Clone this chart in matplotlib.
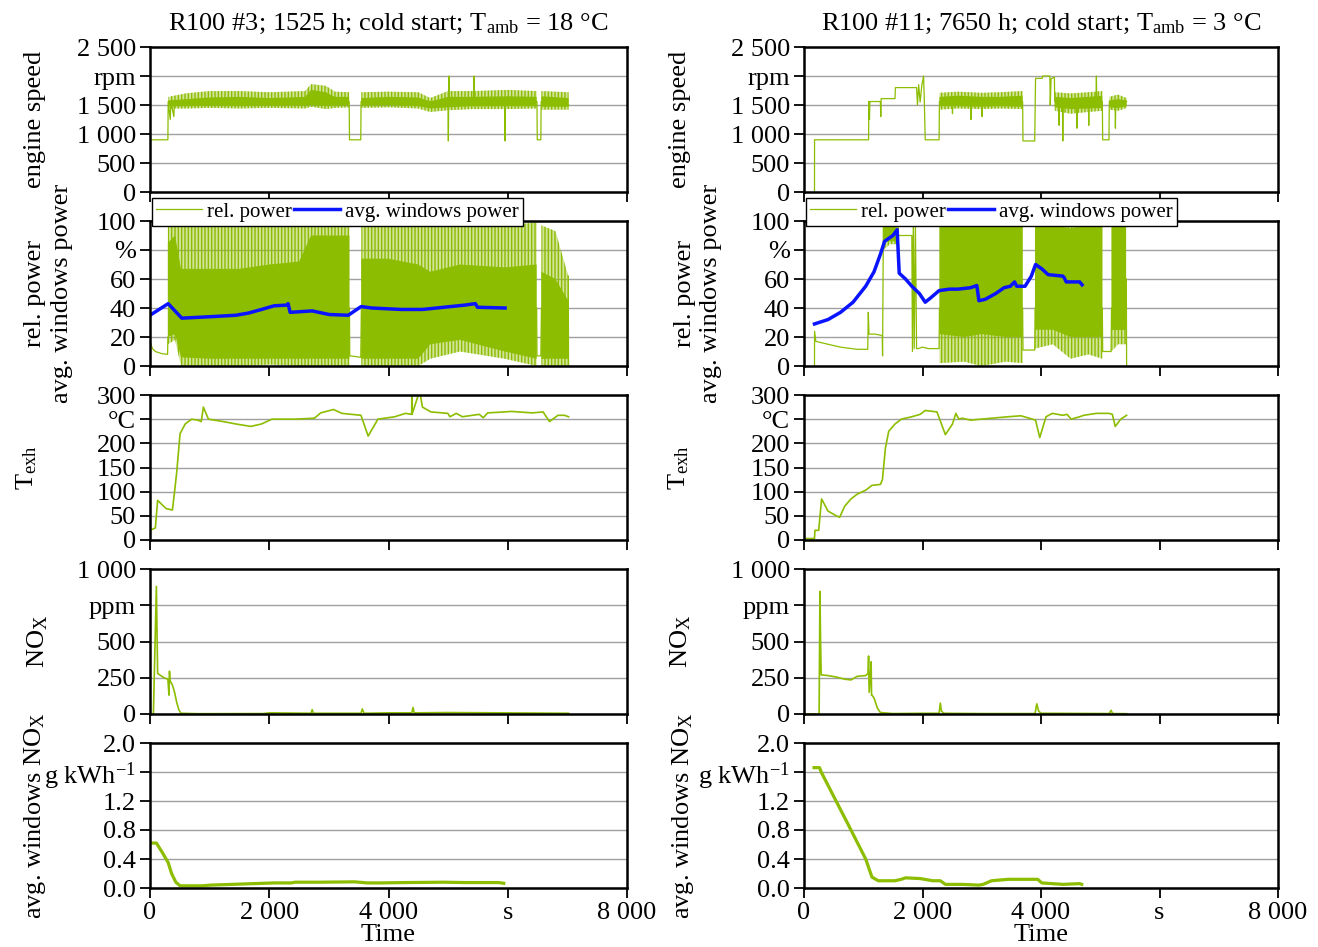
import numpy as np
import matplotlib
matplotlib.use('Agg')
import matplotlib.pyplot as plt
from matplotlib.ticker import FixedLocator, FixedFormatter

nan = np.nan

# ---- text ----
titles = ['R100 #3; 1525 h; cold start; T$_\\mathrm{amb}$ = 18 °C',
          'R100 #11; 7650 h; cold start; T$_\\mathrm{amb}$ = 3 °C']
ylabels = ['engine speed', 'rel. power\navg. windows power', 'T$_\\mathrm{exh}$',
           'NO$_\\mathrm{X}$', 'avg. windows NO$_\\mathrm{X}$']
x_ticks = [0, 2000, 4000, 6000, 8000]
x_labels = ['0', '2 000', '4 000', 's', '8 000']
spd_ticks = [0, 500, 1000, 1500, 2000, 2500]
spd_labels = ['0', '500', '1 000', '1 500', 'rpm', '2 500']
pow_ticks = [0, 20, 40, 60, 80, 100]
pow_labels = ['0', '20', '40', '60', '%', '100']
tex_ticks = [0, 50, 100, 150, 200, 250, 300]
tex_labels = ['0', '50', '100', '150', '200', '°C', '300']
nox_ticks = [0, 250, 500, 750, 1000]
nox_labels = ['0', '250', '500', 'ppm', '1 000']
anx_ticks = [0, 0.4, 0.8, 1.2, 1.6, 2.0]
anx_labels = ['0.0', '0.4', '0.8', '1.2', 'g kWh$^{-1}$', '2.0']

# ---- left: R100 #3 ----
spd_l_t = [0, 2, 300, 305, 340, 350, 400, 410, 3340, 3346, 3535, 3540, 4998, 5004, 5012, 5020,
           5430, 5436, 5442, 5950, 5955, 5962, 6490, 6495, 6555, 6560, 7020]
spd_l_v = [0, 900, 900, 1560, 1250, 1560, 1300, 1560, 1560, 900, 900, 1560, 1560, 880, 2000, 1560,
           1560, 2000, 1560, 1560, 880, 1560, 1560, 900, 900, 1560, 1500]
spd_l_bt = [310, 600, 1000, 1500, 2000, 2600, 2700, 2950, 3100, 3340, nan,
            3545, 4000, 4500, 4700, 5000, 5400, 6000, 6485, nan, 6565, 7020]
spd_l_lo = [1440, 1440, 1450, 1440, 1450, 1440, 1470, 1430, 1450, 1460, nan,
            1450, 1460, 1440, 1380, 1410, 1430, 1430, 1440, nan, 1420, 1420]
spd_l_hi = [1640, 1700, 1740, 1740, 1720, 1740, 1860, 1830, 1730, 1720, nan,
            1720, 1730, 1720, 1620, 1740, 1740, 1760, 1740, nan, 1740, 1720]
spd_l_clo = [1480, 1480, 1490, 1480, 1490, 1490, 1500, 1480, 1490, 1500, nan,
             1490, 1500, 1480, 1440, 1460, 1480, 1480, 1480, nan, 1470, 1470]
spd_l_chi = [1580, 1600, 1630, 1640, 1620, 1640, 1760, 1720, 1640, 1640, nan,
             1620, 1640, 1630, 1560, 1640, 1640, 1650, 1640, nan, 1650, 1620]

pow_l_t = [0, 3, 40, 90, 200, 295, 300, nan, 3345, 3350, 3450, 3535, 3545, nan,
           6485, 6490, 6555, 6565, nan, 7015, 7020]
pow_l_v = [0, 17, 12, 10, 8.5, 8, 20, nan, 40, 7, 6.5, 6, 40, nan,
           40, 7, 7, 40, nan, 62, 0]
pow_l_bt = [300, 420, 520, 1000, 1500, 2000, 2500, 2700, 3345, nan,
            3545, 4000, 4500, 4700, 5200, 5950, 6485, nan, 6565, 6800, 7015]
pow_l_lo = [15, 18, 0, 0, 0, 1, 0, 0, 0, nan, 0, 0, 0, 5, 10, 5, 0, nan, 0, 0, 0]
pow_l_hi = [100, 100, 97, 99, 97, 98, 97, 100, 100, nan, 98, 100, 97, 98, 100, 97, 99, nan, 97, 93, 62]
pow_l_clo = [20, 22, 6, 5, 5, 5, 5, 5, 5, nan, 5, 5, 5, 15, 18, 10, 5, nan, 5, 5, 5]
pow_l_chi = [85, 90, 67, 67, 67, 70, 72, 90, 90, nan, 74, 74, 70, 65, 70, 68, 70, nan, 65, 60, 45]

avp_l_t = [0, 305, 533, 1015, 1440, 1650, 1870, 2080, 2295, 2316, 2350, 2720, 3005, 3325,
           3540, 3716, 4213, 4570, 4925, 5280, 5457, 5492, 5955]
avp_l_v = [35, 43, 33, 34, 35, 36.5, 39, 41.5, 42, 43, 37, 38, 35.5, 35,
           41, 40, 39, 39, 40.5, 42, 43, 40.5, 40]

tex_l_t = [0, 90, 128, 270, 376, 412, 448, 504, 590, 697, 803, 860, 895, 980, 1229, 1442, 1691,
           1869, 2046, 2437, 2757, 2863, 3077, 3219, 3538, 3659, 3822, 4107, 4284, 4389, 4391, 4395,
           4500, 4535, 4569, 4711, 4995, 5030, 5137, 5240, 5521, 5590, 5663, 5947, 6060, 6416,
           6593, 6700, 6842, 6949, 7020]
tex_l_v = [20, 25, 82, 65, 62, 100, 140, 220, 240, 250, 248, 245, 275, 250, 245, 240, 235,
           240, 250, 250, 252, 263, 270, 262, 258, 215, 250, 255, 262, 260, 300, 260,
           300, 300, 275, 265, 262, 255, 262, 255, 260, 253, 263, 265, 266, 263,
           265, 245, 258, 258, 255]

nox_l_t = [0, 57, 107, 128, 163, 234, 300, 318, 327, 335, 376, 412, 448, 483, 519, 800, 1900,
           2000, 2700, 2720, 2740, 3540, 3560, 3590, 4000, 4390, 4412, 4430, 5000, 7020]
nox_l_v = [0, 0, 880, 280, 270, 250, 240, 130, 295, 230, 200, 150, 80, 30, 5, 2, 3,
           8, 5, 30, 5, 5, 35, 5, 8, 8, 45, 8, 10, 5]

anx_l_t = [0, 107, 199, 305, 362, 433, 504, 874, 1016, 1371, 1727, 2082, 2366, 2437, 2863,
           3432, 3645, 3858, 4284, 4924, 5280, 5847, 5933]
anx_l_v = [0.62, 0.62, 0.5, 0.35, 0.2, 0.08, 0.03, 0.03, 0.04, 0.05, 0.06, 0.07, 0.07, 0.08, 0.08,
           0.085, 0.07, 0.07, 0.075, 0.08, 0.075, 0.075, 0.065]

# ---- right: R100 #11 ----
spd_r_t = [177, 178, 1090, 1095, 1105, 1112, 1289, 1296, 1302, 1536, 1542, 1900, 1915, 1935, 1960,
           1990, 2018, 2030, 2046, 2280, 2286, 2500, 2506, 2512, 2811, 2817, 2823, 3000, 3006, 3012,
           3690, 3696, 3894, 3908, 4020, 4030, 4150, 4156, 4170, 4226, 4232, 4300, 4306, 4312,
           4362, 4368, 4374, 4600, 4606, 4612, 4800, 4806, 4812, 4929, 4935, 4941,
           5035, 5041, 5147, 5153, 5250, 5256, 5262, 5445]
spd_r_v = [0, 900, 900, 1560, 1250, 1560, 1560, 1300, 1610, 1610, 1800, 1800, 1500, 1850, 1550,
           1850, 2000, 1600, 900, 900, 1560, 1560, 1350, 1560, 1560, 1250, 1560, 1560, 1300, 1560,
           1560, 880, 880, 1960, 1960, 2000, 2000, 1500, 1950, 1980, 1560, 1560, 1150, 1560,
           1500, 880, 1500, 1560, 1100, 1560, 1560, 1150, 1560, 1560, 2000, 1560,
           1560, 900, 900, 1560, 1560, 1100, 1560, 1560]
spd_r_bt = [2286, 2600, 3000, 3300, 3690, nan, 4232, 4500, 4800, 5035, nan, 5153, 5300, 5445]
spd_r_lo = [1420, 1440, 1430, 1440, 1430, nan, 1400, 1350, 1380, 1400, nan, 1420, 1400, 1450]
spd_r_hi = [1710, 1730, 1710, 1720, 1740, nan, 1720, 1700, 1720, 1740, nan, 1640, 1680, 1620]
spd_r_clo = [1480, 1480, 1470, 1480, 1470, nan, 1460, 1430, 1440, 1450, nan, 1460, 1450, 1480]
spd_r_chi = [1640, 1660, 1640, 1640, 1660, nan, 1640, 1620, 1640, 1660, nan, 1580, 1600, 1580]

pow_r_t = [177, 178, 200, 404, 616, 900, 1076, 1085, 1097, 1200, 1320, 1326, 1340, nan,
           1600, 1820, 1830, 1845, 1860, 1880, 1900, 1926, 2000, 2100, 2280, 2286, nan,
           3690, 3696, 3894, 3900, nan, 5035, 5041, 5183, 5190, nan, 5440, 5445]
pow_r_v = [0, 24, 17, 15, 13, 11.5, 11.5, 37, 22, 22, 21, 7, 100, nan,
           90, 90, 10, 100, 12, 100, 12, 12, 13, 12, 12, 40, nan,
           40, 11, 11, 40, nan, 40, 10, 10, 40, nan, 60, 0]
pow_r_bt = [1340, 1450, 1600, nan, 2286, 2700, 3000, 3400, 3690, nan,
            3900, 4200, 4500, 4800, 5035, nan, 5190, 5300, 5440]
pow_r_lo = [80, 84, 84, nan, 2, 3, 0, 3, 2, nan, 12, 15, 5, 8, 5, nan, 10, 15, 15]
pow_r_hi = [100, 100, 98, nan, 100, 100, 100, 100, 100, nan, 100, 100, 100, 100, 100, nan, 100, 100, 100]
pow_r_clo = [86, 86, 86, nan, 22, 20, 22, 20, 20, nan, 25, 25, 20, 20, 20, nan, 25, 25, 25]
pow_r_chi = [96, 97, 95, nan, 97, 97, 97, 97, 97, nan, 97, 97, 95, 97, 97, nan, 97, 97, 97]

avp_r_t = [177, 404, 616, 828, 1041, 1182, 1289, 1360, 1430, 1501, 1572, 1607, 1713, 1820, 1947,
           2046, 2138, 2280, 2457, 2598, 2811, 2917, 2952, 3059, 3236, 3377, 3483, 3554, 3590,
           3731, 3837, 3908, 4014, 4121, 4368, 4390, 4425, 4652, 4693]
avp_r_v = [29, 32, 37, 44, 55, 65, 77, 86, 88, 90, 94, 64, 60, 55, 50,
           44, 47, 52, 53, 53, 54, 55.5, 45, 46, 50, 54, 55, 58, 55,
           55, 62, 70, 67, 63, 62, 61, 58, 58, 56]

tex_r_t = [15, 177, 185, 248, 297, 404, 545, 602, 687, 793, 899, 1041, 1147, 1289, 1324, 1374,
           1430, 1536, 1643, 1820, 1961, 2046, 2244, 2386, 2506, 2563, 2612, 2669, 2811, 3165,
           3448, 3660, 3802, 3908, 3979, 4085, 4191, 4368, 4439, 4510, 4652, 4722, 4935, 5147,
           5204, 5253, 5346, 5445]
tex_r_v = [3, 3, 20, 20, 85, 60, 50, 47, 70, 85, 95, 103, 113, 115, 125, 190,
           225, 240, 250, 255, 260, 268, 265, 218, 240, 262, 250, 252, 248, 252,
           255, 257, 252, 248, 212, 255, 262, 258, 260, 250, 255, 258, 262, 262,
           260, 235, 250, 258]

nox_r_t = [15, 255, 269, 280, 290, 404, 545, 687, 793, 899, 1041, 1080, 1090, 1100, 1125, 1133,
           1140, 1147, 1182, 1239, 1289, 1500, 2000, 2280, 2301, 2320, 2360, 3000, 3900, 3929,
           3960, 4000, 5150, 5183, 5210, 5445]
nox_r_v = [0, 0, 845, 500, 270, 265, 255, 240, 235, 260, 265, 280, 400, 150, 300, 360,
           130, 130, 110, 40, 10, 3, 5, 5, 75, 20, 5, 3, 3, 70,
           20, 5, 3, 25, 3, 2]

anx_r_t = [170, 262, 290, 793, 1041, 1147, 1253, 1536, 1643, 1713, 1961, 2174, 2301, 2386, 2669,
           2952, 3023, 3165, 3448, 3944, 4014, 4368, 4652, 4687]
anx_r_v = [1.66, 1.66, 1.6, 0.8, 0.4, 0.15, 0.1, 0.1, 0.12, 0.14, 0.13, 0.1, 0.1, 0.05, 0.05,
           0.04, 0.05, 0.1, 0.12, 0.12, 0.07, 0.05, 0.06, 0.05]

green = '#8cbd00'
blue = '#0a14ff'

plt.rcParams['font.family'] = ['Liberation Serif', 'DejaVu Serif']
plt.rcParams['mathtext.fontset'] = 'custom'
plt.rcParams['mathtext.rm'] = 'Liberation Serif'
plt.rcParams['mathtext.it'] = 'Liberation Serif:italic'
plt.rcParams['mathtext.bf'] = 'Liberation Serif:bold'
plt.rcParams['hatch.linewidth'] = 1.0

W, H = 1318, 947
fig = plt.figure(figsize=(W / 100, H / 100), dpi=100)
col_x = [(150, 477), (804, 474)]
row_top = [47, 221, 395, 569, 743]
row_h = 145
axes = [[fig.add_axes([x / W, 1 - (t + row_h) / H, w / W, row_h / H]) for (x, w) in col_x]
        for t in row_top]

yinfo = [(spd_ticks, spd_labels, 2500), (pow_ticks, pow_labels, 100), (tex_ticks, tex_labels, 300),
         (nox_ticks, nox_labels, 1000), (anx_ticks, anx_labels, 2.0)]
label_x = [[-0.241, -0.213, -0.258, -0.235, -0.241],
           [-0.262, -0.224, -0.264, -0.260, -0.255]]

for r in range(5):
    for c in range(2):
        ax = axes[r][c]
        ticks, labels, top = yinfo[r]
        ax.set_xlim(0, 8000)
        ax.set_ylim(0, top)
        ax.yaxis.set_major_locator(FixedLocator(ticks))
        ax.yaxis.set_major_formatter(FixedFormatter(labels))
        ax.xaxis.set_major_locator(FixedLocator(x_ticks))
        ax.xaxis.set_major_formatter(FixedFormatter(x_labels))
        ax.grid(axis='y', color='#a0a0a0', lw=1)
        ax.set_axisbelow(True)
        ax.tick_params(direction='out', length=7, width=1.3, labelsize=19, pad=3)
        if r < 4:
            ax.tick_params(labelbottom=False)
        for s in ax.spines.values():
            s.set_linewidth(1.8)
        ax.set_ylabel(ylabels[r], fontsize=19, va='center', linespacing=1.25)
        ax.yaxis.set_label_coords(label_x[c][r], 0.5)

for c, t in enumerate(titles):
    axes[0][c].set_title(t, fontsize=19, pad=12)
for c in range(2):
    axes[4][c].set_xlabel('Time', fontsize=19, labelpad=0)


def noisy(ax, bt, lo, hi, clo, chi):
    # sparse outer envelope (streaks) + dense core
    ax.fill_between(bt, lo, hi, facecolor=green, alpha=0.4, lw=0)
    ax.fill_between(bt, lo, hi, facecolor='none', edgecolor=green, hatch='|||||', lw=0)
    ax.fill_between(bt, clo, chi, color=green, lw=0)


# engine speed
noisy(axes[0][0], spd_l_bt, spd_l_lo, spd_l_hi, spd_l_clo, spd_l_chi)
axes[0][0].plot(spd_l_t, spd_l_v, color=green, lw=0.9)
noisy(axes[0][1], spd_r_bt, spd_r_lo, spd_r_hi, spd_r_clo, spd_r_chi)
axes[0][1].plot(spd_r_t, spd_r_v, color=green, lw=0.9)

# rel. power + avg. windows power
for ax, t, v, bt, lo, hi, clo, chi, at, av in [
        (axes[1][0], pow_l_t, pow_l_v, pow_l_bt, pow_l_lo, pow_l_hi, pow_l_clo, pow_l_chi, avp_l_t, avp_l_v),
        (axes[1][1], pow_r_t, pow_r_v, pow_r_bt, pow_r_lo, pow_r_hi, pow_r_clo, pow_r_chi, avp_r_t, avp_r_v)]:
    noisy(ax, bt, lo, hi, clo, chi)
    ax.plot(t, v, color=green, lw=0.9, label='rel. power')
    ax.plot(at, av, color=blue, lw=2.5, label='avg. windows power')
    leg = ax.legend(loc='upper left', bbox_to_anchor=(0.004, 1.16), ncol=2, fontsize=15,
                    frameon=True, fancybox=False, framealpha=1, edgecolor='black',
                    handlelength=2.2, handletextpad=0.25, columnspacing=0.1,
                    borderpad=0.2, borderaxespad=0)
    leg.get_frame().set_linewidth(1.0)
    leg.set_zorder(10)

for ax, t, v in [(axes[2][0], tex_l_t, tex_l_v), (axes[2][1], tex_r_t, tex_r_v)]:
    ax.plot(t, v, color=green, lw=1.2)

for ax, t, v in [(axes[3][0], nox_l_t, nox_l_v), (axes[3][1], nox_r_t, nox_r_v)]:
    ax.plot(t, v, color=green, lw=1.2)

for ax, t, v in [(axes[4][0], anx_l_t, anx_l_v), (axes[4][1], anx_r_t, anx_r_v)]:
    ax.plot(t, v, color=green, lw=2.3)

fig.savefig('out.png', dpi=100)
